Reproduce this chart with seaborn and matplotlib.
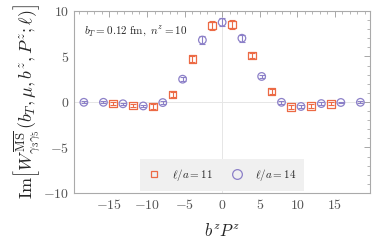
import numpy as np
import pandas as pd
import matplotlib
matplotlib.use("Agg")
import matplotlib.pyplot as plt
from matplotlib.ticker import MultipleLocator, FuncFormatter
from matplotlib.lines import Line2D
import seaborn as sns

# data
x_11 = [-14.5, -11.85, -9.2, -6.58, -3.95, -1.32, 1.32, 3.95, 6.58, 9.2, 11.85, 14.5]
y_11 = [-0.18, -0.40, -0.50, 0.80, 4.70, 8.40, 8.50, 5.10, 1.13, -0.55, -0.44, -0.20]
e_11 = [0.15, 0.2, 0.25, 0.25, 0.3, 0.45, 0.45, 0.3, 0.25, 0.25, 0.2, 0.15]
x_14 = [-18.4, -15.8, -13.2, -10.5, -7.9, -5.26, -2.63, 0.0, 2.63, 5.26, 7.9, 10.5, 13.2, 15.8, 18.4]
y_14 = [-0.04, -0.04, -0.20, -0.44, -0.07, 2.50, 6.80, 8.75, 7.00, 2.80, -0.04, -0.50, -0.18, -0.06, -0.04]
e_14 = [0.1, 0.1, 0.12, 0.15, 0.15, 0.2, 0.4, 0.45, 0.4, 0.2, 0.15, 0.15, 0.12, 0.1, 0.1]
labels = [r"$\ell/a=11$", r"$\ell/a=14$"]
x_ticks = [-15, -10, -5, 0, 5, 10, 15]
y_ticks = [-10, -5, 0, 5, 10]

c11 = "#EC6A45"
c14 = "#8C80C8"

sns.set_style("white")
plt.rcParams["font.family"] = ["DejaVu Serif"]
plt.rcParams["mathtext.fontset"] = "cm"

df = pd.concat([
    pd.DataFrame({"x": x_11, "y": y_11, "err": e_11, "series": labels[0]}),
    pd.DataFrame({"x": x_14, "y": y_14, "err": e_14, "series": labels[1]}),
])

fig = plt.figure(figsize=(3.82, 2.43), dpi=100)
ax = fig.add_axes([0.194, 0.206, 0.775, 0.749])

ax.axhline(0, color="#e6e6e6", lw=0.7, zorder=0)
ax.axvline(0, color="#e6e6e6", lw=0.7, zorder=0)

for lab, col in zip(labels, [c11, c14]):
    d = df[df.series == lab]
    ax.errorbar(d.x, d.y, yerr=d.err, fmt="none", ecolor=col, elinewidth=0.8,
                capsize=2.5, capthick=0.8, zorder=2)

sns.scatterplot(data=df, x="x", y="y", hue="series", style="series",
                palette={labels[0]: c11, labels[1]: c14},
                markers={labels[0]: "s", labels[1]: "o"},
                hue_order=labels, style_order=labels,
                s=30, linewidth=0.9, ax=ax, zorder=3, legend=False)
pts = ax.collections[-1]
fc = pts.get_facecolors()
pts.set_edgecolors(fc)
pts.set_facecolors("none")

ax.set_xlim(-19.7, 19.7)
ax.set_ylim(-10, 10)
ax.set_xticks(x_ticks)
ax.set_yticks(y_ticks)
ax.xaxis.set_minor_locator(MultipleLocator(1))
ax.yaxis.set_minor_locator(MultipleLocator(1))
fmt = FuncFormatter(lambda v, p: r"$%g$" % v)
ax.xaxis.set_major_formatter(fmt)
ax.yaxis.set_major_formatter(fmt)
ax.tick_params(which="both", direction="in", top=True, right=True, color="#999999",
               labelcolor="#555555", labelsize=10)
ax.tick_params(which="major", length=4, width=0.6)
ax.tick_params(which="minor", length=2, width=0.5)
for s in ax.spines.values():
    s.set_color("#aaaaaa")
    s.set_linewidth(0.8)

ax.set_xlabel(r"$b^z P^z$", fontsize=12, labelpad=8)
ax.set_ylabel(r"$\mathrm{Im}\left[W^{\overline{\mathrm{MS}}}_{\gamma_3\gamma_5}(b_T,\mu,b^z,P^z;\ell)\right]$",
              fontsize=13, labelpad=0)

ax.text(0.035, 0.93, r"$b_T=0.12\ \mathrm{fm},\ n^z=10$", transform=ax.transAxes,
        fontsize=8, va="top", ha="left")

handles = [Line2D([], [], ls="none", marker="s", mfc="none", mec=c11, ms=5, mew=0.9),
           Line2D([], [], ls="none", marker="o", mfc="none", mec=c14, ms=7, mew=0.9)]
leg = ax.legend(handles, labels, loc="center", bbox_to_anchor=(0.5, 0.1), ncol=2,
                frameon=True, fontsize=8, handletextpad=1.0, columnspacing=1.6,
                handlelength=1.2, borderpad=0.7)
leg.get_frame().set_facecolor("#f0f0f0")
leg.get_frame().set_edgecolor("none")
leg.get_frame().set_alpha(1)
leg.get_frame().set_boxstyle("square", pad=0)

fig.savefig("out.png", dpi=100)
